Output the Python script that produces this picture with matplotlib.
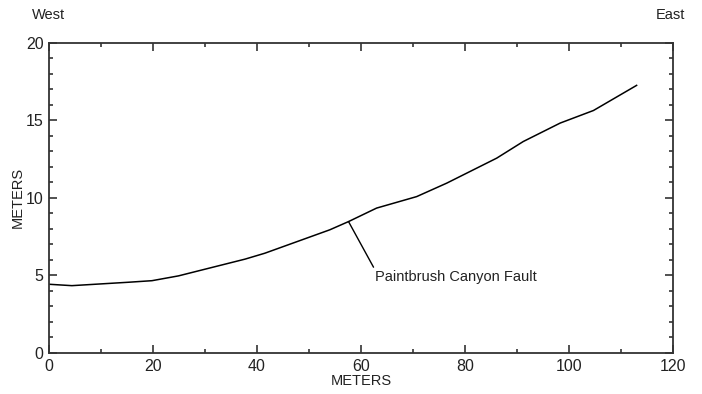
import matplotlib.pyplot as plt
from matplotlib.ticker import MultipleLocator

# profile along the trench, west to east
dist = [0, 4.4, 15.3, 19.8, 24.9, 29.4, 37.7, 41.5, 54.0, 57.6, 63.0,
        70.7, 76.5, 86.1, 91.2, 98.3, 104.7, 113.0]
elev = [4.43, 4.34, 4.56, 4.66, 4.97, 5.35, 6.05, 6.43, 7.94, 8.47, 9.34,
        10.08, 10.95, 12.56, 13.63, 14.82, 15.63, 17.25]

fault_x, fault_y = 57.6, 8.47
fault_label = 'Paintbrush Canyon Fault'

plt.rcParams['font.family'] = ['Liberation Sans Narrow', 'Liberation Sans', 'DejaVu Sans']
ink = '#222222'

fig = plt.figure(figsize=(7.02, 3.94), dpi=100)
ax = fig.add_axes([0.0698, 0.1041, 0.8889, 0.7875])

ax.plot(dist, elev, color='black', lw=1.1)

ax.annotate(fault_label, xy=(fault_x, fault_y), xytext=(62.7, 4.9),
            fontsize=10.5, color=ink, va='center', ha='left',
            arrowprops=dict(arrowstyle='-', color='black', lw=1.0,
                            shrinkA=0, shrinkB=0, relpos=(0, 1)))

ax.set_xlim(0, 120)
ax.set_ylim(0, 20)
ax.xaxis.set_major_locator(MultipleLocator(20))
ax.xaxis.set_minor_locator(MultipleLocator(10))
ax.yaxis.set_major_locator(MultipleLocator(5))
ax.yaxis.set_minor_locator(MultipleLocator(1))

ax.tick_params(which='both', direction='in', top=True, right=True,
               color='#333333', width=1.2, labelsize=11.5, labelcolor=ink)
ax.tick_params(which='major', length=6)
ax.tick_params(which='minor', length=3)
ax.tick_params(axis='x', pad=4)
ax.tick_params(axis='y', pad=4)

for s in ax.spines.values():
    s.set_color('#333333')
    s.set_linewidth(1.3)

ax.set_xlabel('METERS', fontsize=10.5, color=ink, labelpad=0)
ax.set_ylabel('METERS', fontsize=10.5, color=ink)
ax.yaxis.set_label_coords(-0.039, 0.5)

fig.text(32 / 702, 1 - 15 / 394, 'West', fontsize=10.5, color=ink,
         ha='left', va='center')
fig.text(685 / 702, 1 - 15 / 394, 'East', fontsize=10.5, color=ink,
         ha='right', va='center')

fig.savefig('out.png', dpi=100)
